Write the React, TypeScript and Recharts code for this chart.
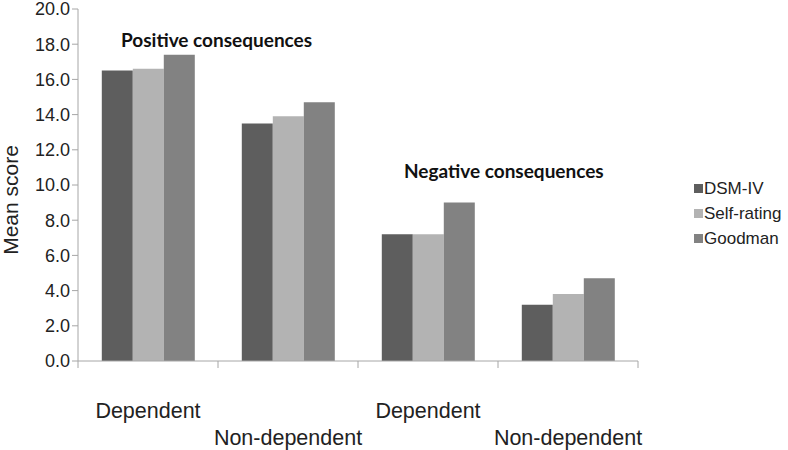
import React from 'react';
import { BarChart, Bar, XAxis, YAxis } from 'recharts';

const categoryIds = ['pos-dep', 'pos-nondep', 'neg-dep', 'neg-nondep'];
const categoryLabels = ['Dependent', 'Non-dependent', 'Dependent', 'Non-dependent'];
const dsmIV = [16.5, 13.5, 7.2, 3.2];
const selfRating = [16.6, 13.9, 7.2, 3.8];
const goodman = [17.4, 14.7, 9.0, 4.7];
const yTicks = [0, 2, 4, 6, 8, 10, 12, 14, 16, 18, 20];

const seriesInfo = [
  { key: 'dsm', name: 'DSM-IV', color: '#5e5e5e' },
  { key: 'self', name: 'Self-rating', color: '#b3b3b3' },
  { key: 'goodman', name: 'Goodman', color: '#828282' },
];

const data = categoryIds.map((id, i) => ({
  id,
  label: categoryLabels[i],
  dsm: dsmIV[i],
  self: selfRating[i],
  goodman: goodman[i],
}));

const W = 788;
const H = 450;
const margin = { top: 9, right: 150, bottom: 9, left: 0 };
const yAxisWidth = 78;
const plotWidth = W - margin.left - margin.right - yAxisWidth;
const halfBand = plotWidth / categoryIds.length / 2;
const axisColor = '#a6a6a6';
const font = '"Liberation Sans", Arial, sans-serif';

const XTick = (props: any) => {
  const { x, y, index } = props;
  const label = categoryLabels[index] ?? '';
  const stagger = index % 2 === 1;
  return (
    <g>
      <line x1={x - halfBand} x2={x - halfBand} y1={y - 8} y2={y - 1} stroke={axisColor} />
      {index === categoryIds.length - 1 && (
        <line x1={x + halfBand} x2={x + halfBand} y1={y - 8} y2={y - 1} stroke={axisColor} />
      )}
      <text
        x={x}
        y={y + (stagger ? 76 : 49)}
        textAnchor="middle"
        fontFamily={font}
        fontSize={21.5}
        fill="#222"
      >
        {label}
      </text>
    </g>
  );
};

const YLabel = (props: any) => {
  const vb = props.viewBox || { x: 0, y: 0, width: 0, height: 0 };
  const cx = 10;
  const cy = vb.y + vb.height / 2 + 15;
  return (
    <text
      x={cx}
      y={cy}
      transform={`rotate(-90 ${cx} ${cy})`}
      textAnchor="middle"
      dominantBaseline="central"
      fontFamily={font}
      fontSize={21}
      fill="#222"
    >
      Mean score
    </text>
  );
};

const LegendBox = () => (
  <div
    style={{
      position: 'absolute',
      left: 694,
      top: 176,
      fontFamily: font,
      fontSize: 17,
      color: '#222',
    }}
  >
    {seriesInfo.map((s) => (
      <div key={s.key} style={{ display: 'flex', alignItems: 'center', height: 25 }}>
        <span style={{ display: 'inline-block', width: 9, height: 9, background: s.color, marginRight: 1 }} />
        {s.name}
      </div>
    ))}
  </div>
);

const annotationStyle: React.CSSProperties = {
  position: 'absolute',
  fontFamily: 'Lato, "Open Sans", sans-serif',
  fontWeight: 700,
  fontSize: 19,
  lineHeight: '22px',
  color: '#111',
  whiteSpace: 'nowrap',
};

export default function App() {
  return (
    <div style={{ position: 'absolute', left: 0, top: 0, width: W, height: H, background: '#fff' }}>
      <BarChart width={W} height={H} data={data} margin={margin} barCategoryGap="17%" barGap={0}>
        <YAxis
          width={yAxisWidth}
          domain={[0, 20]}
          ticks={yTicks}
          interval={0}
          tickFormatter={(v: number) => v.toFixed(1)}
          tick={{ fontFamily: font, fontSize: 18, fill: '#222' }}
          stroke={axisColor}
          tickSize={6}
          label={<YLabel />}
        />
        <XAxis
          dataKey="id"
          height={80}
          interval={0}
          tickLine={false}
          stroke={axisColor}
          tick={<XTick />}
        />
        {seriesInfo.map((s) => (
          <Bar key={s.key} dataKey={s.key} name={s.name} fill={s.color} isAnimationActive={false} />
        ))}
      </BarChart>
      <div style={{ ...annotationStyle, left: 121, top: 29 }}>Positive consequences</div>
      <div style={{ ...annotationStyle, left: 404, top: 160 }}>Negative consequences</div>
      <LegendBox />
    </div>
  );
}
